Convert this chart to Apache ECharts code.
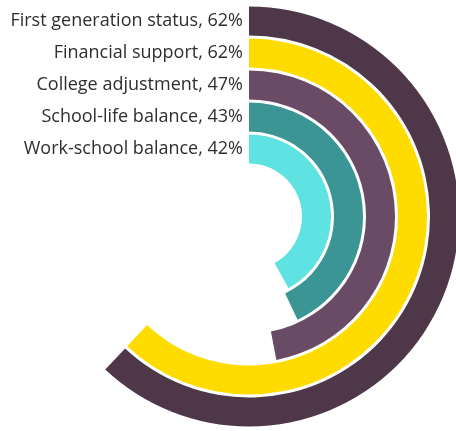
<!DOCTYPE html>
<html>
<head>
<meta charset="utf-8">
<style>
  html, body { margin: 0; padding: 0; background: #ffffff; }
  #chart { width: 456px; height: 431px; }
</style>
<script src="https://cdn.jsdelivr.net/npm/echarts@6/dist/echarts.min.js"></script>
</head>
<body>
<div id="chart"></div>
<script>
// Share of respondents per challenge, innermost ring first
const categories = [
  'Work-school balance',
  'School-life balance',
  'College adjustment',
  'Financial support',
  'First generation status'
];
const values = [42, 43, 47, 62, 62];
const colors = ['#5ee2e2', '#3b9595', '#6a4b66', '#ffdc00', '#4d3749'];

const labels = categories.map((c, i) => c + ', ' + values[i] + '%');

const chart = echarts.init(document.getElementById('chart'), null, { renderer: 'canvas' });

chart.setOption({
  animation: false,
  backgroundColor: '#ffffff',
  polar: {
    center: [249, 216.5],
    radius: [51.5, 211.5]
  },
  angleAxis: {
    type: 'value',
    min: 0,
    max: 100,
    startAngle: 90,
    clockwise: true,
    show: false
  },
  radiusAxis: {
    type: 'category',
    data: labels,
    axisLine: { show: false },
    axisTick: { show: false },
    splitLine: { show: false },
    axisLabel: {
      interval: 0,
      hideOverlap: false,
      margin: 6,
      color: '#2e2e2e',
      fontFamily: 'Open Sans',
      fontSize: 18
    },
    z: 10
  },
  series: [{
    type: 'bar',
    coordinateSystem: 'polar',
    barWidth: 29,
    silent: true,
    data: values.map((v, i) => ({ value: v, itemStyle: { color: colors[i] } }))
  }]
});
</script>
</body>
</html>
